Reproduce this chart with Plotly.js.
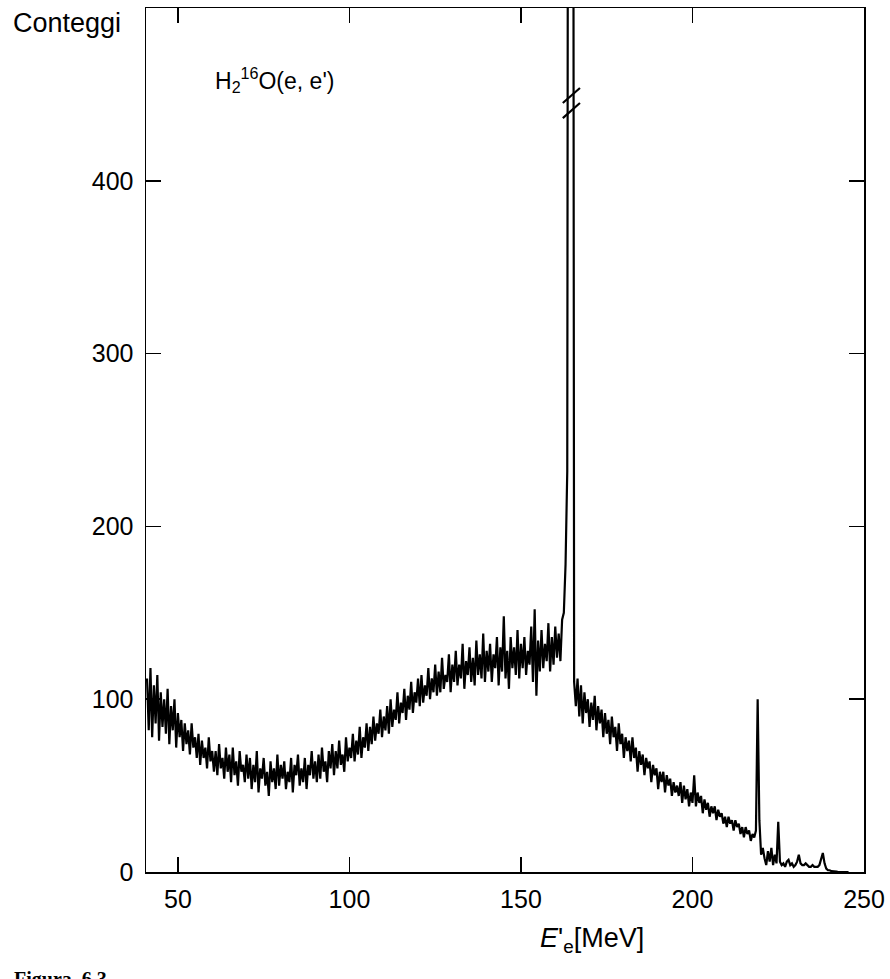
<!DOCTYPE html>
<html>
<head>
<meta charset="utf-8">
<script src="https://cdn.plot.ly/plotly-3.0.1.min.js"></script>
<style>html,body{margin:0;padding:0;background:#fff;}#chart{width:890px;height:979px;}</style>
</head>
<body>
<div id="chart"></div>
<script>
// Channel grid of the spectrum (MeV)
const energyStart = 41;
const energyStep = 0.5;

// Counts per channel (rows of 5 MeV)
const counts = [
  112, 82, 118, 78, 108, 86, 114, 76, 104, 84,     // 41
  100, 80, 106, 74, 96, 82, 100, 72, 92, 78,       // 46
  88, 70, 86, 74, 82, 68, 86, 72, 78, 66,          // 51
  80, 62, 76, 66, 72, 60, 78, 64, 70, 58,          // 56
  70, 56, 74, 60, 66, 54, 72, 58, 68, 52,          // 61
  72, 56, 64, 50, 70, 58, 62, 52, 68, 54,          // 66
  66, 48, 62, 52, 70, 46, 60, 54, 66, 50,          // 71
  58, 44, 64, 52, 60, 48, 68, 50, 62, 54,          // 76
  64, 48, 58, 52, 66, 46, 62, 56, 68, 50,          // 81
  60, 52, 66, 48, 62, 56, 70, 54, 64, 52,          // 86
  68, 54, 72, 58, 64, 52, 70, 60, 74, 56,          // 91
  70, 60, 76, 62, 68, 58, 78, 64, 72, 66,          // 96
  80, 64, 76, 68, 84, 66, 78, 72, 86, 70,          // 101
  84, 74, 90, 76, 86, 80, 94, 78, 90, 82,          // 106
  96, 80, 100, 84, 94, 88, 104, 86, 98, 92,        // 111
  106, 88, 102, 94, 110, 92, 104, 98, 112, 96,     // 116
  114, 98, 108, 102, 118, 100, 112, 104, 120, 102, // 121
  116, 104, 124, 106, 114, 110, 126, 104, 120, 110,// 126
  128, 108, 120, 112, 132, 106, 122, 114, 130, 110,// 131
  124, 108, 134, 114, 126, 112, 138, 110, 128, 116,// 136
  132, 110, 126, 118, 136, 108, 130, 116, 148, 112,// 141
  128, 106, 136, 118, 130, 114, 140, 112, 132, 118,// 146
  136, 114, 128, 120, 142, 110, 152, 102, 134, 116,// 151
  140, 118, 132, 122, 144, 116, 136, 120, 142, 124,// 156
  138, 122, 146, 150, 178, 232, 1200, 1500, 1200, 110, // 161 (elastic peak)
  96, 112, 90, 108, 86, 104, 92, 100, 84, 98,      // 166
  88, 102, 82, 96, 86, 94, 78, 92, 80, 88,         // 171
  74, 90, 78, 84, 70, 86, 74, 80, 66, 78,          // 176
  70, 76, 64, 78, 66, 72, 58, 70, 62, 68,          // 181
  56, 66, 60, 64, 52, 62, 56, 60, 48, 58,          // 186
  52, 58, 46, 56, 50, 54, 44, 52, 46, 50,          // 191
  44, 52, 40, 50, 42, 48, 38, 46, 40, 56,          // 196
  38, 46, 40, 44, 34, 42, 36, 40, 32, 38,          // 201
  34, 38, 30, 36, 32, 34, 28, 32, 26, 32,          // 206
  28, 30, 24, 30, 26, 28, 22, 26, 20, 26,          // 211
  22, 24, 18, 22, 20, 24, 100, 30, 10, 14,         // 216
  8, 4, 12, 6, 14, 4, 10, 5, 29, 6,                // 221
  4, 5, 3, 6, 7, 4, 5, 3, 4, 6,                    // 226
  10, 5, 4, 4, 5, 4, 3, 3, 4, 3,                   // 231
  3, 3, 4, 7, 11, 5, 2, 1, 1, 0.5,                 // 236
  0.5, 0.3, 0.2, 0, 0, 0, 0, 0, 0, 0               // 241
];

const xTicks = [50, 100, 150, 200, 250];
const yTicks = [0, 100, 200, 300, 400];

const energies = counts.map((_, i) => energyStart + i * energyStep);

const FONT = 'Liberation Sans, Arial, sans-serif';

const trace = {
  x: energies,
  y: counts,
  type: 'scatter',
  mode: 'lines',
  line: {color: '#000', width: 2.2},
  hoverinfo: 'skip'
};

const axisCommon = {
  showgrid: false,
  zeroline: false,
  showline: true,
  linecolor: '#000',
  linewidth: 1.5,
  mirror: 'ticks',
  ticks: 'inside',
  ticklen: 15,
  tickwidth: 1.5,
  tickcolor: '#000',
  tickfont: {family: FONT, size: 25, color: '#000'}
};

const layout = {
  width: 890,
  height: 979,
  margin: {l: 146, r: 26, t: 8, b: 107},
  paper_bgcolor: '#fff',
  plot_bgcolor: '#fff',
  showlegend: false,
  xaxis: Object.assign({}, axisCommon, {
    range: [40.7, 250],
    tickmode: 'array',
    tickvals: xTicks,
    ticktext: xTicks.map(String),
    ticklabelstandoff: 4
  }),
  yaxis: Object.assign({}, axisCommon, {
    range: [0, 500],
    tickmode: 'array',
    tickvals: yTicks,
    ticktext: yTicks.map(String),
    ticklabelstandoff: 6
  }),
  shapes: [
    {type: 'line', xref: 'x', yref: 'y', x0: 162.2, y0: 445, x1: 167.2, y1: 453.7, line: {color: '#000', width: 2.2}},
    {type: 'line', xref: 'x', yref: 'y', x0: 162.2, y0: 436.3, x1: 167.2, y1: 445, line: {color: '#000', width: 2.2}}
  ],
  annotations: [
    {text: 'Conteggi', xref: 'paper', yref: 'paper', x: -0.188, y: 0.983, xanchor: 'left', yanchor: 'middle',
     showarrow: false, font: {family: FONT, size: 27, color: '#000'}},
    {text: 'H<sub>2</sub><sup>16</sup>O(e, e\')', xref: 'paper', yref: 'paper', x: 0.093, y: 0.917, xanchor: 'left', yanchor: 'middle',
     showarrow: false, font: {family: FONT, size: 23, color: '#000'}},
    {text: '<i>E</i>\'<sub>e</sub>[MeV]', xref: 'paper', yref: 'paper', x: 0.621, y: -0.079, xanchor: 'center', yanchor: 'middle',
     showarrow: false, font: {family: FONT, size: 27, color: '#000'}},
    {text: '<b>Figura  6.3</b>', xref: 'paper', yref: 'paper', x: -0.187, y: -0.109, xanchor: 'left', yanchor: 'top',
     showarrow: false, font: {family: 'Liberation Serif, Times New Roman, serif', size: 20, color: '#000'}}
  ]
};

Plotly.newPlot('chart', [trace], layout, {displayModeBar: false, staticPlot: true});
</script>
</body>
</html>
